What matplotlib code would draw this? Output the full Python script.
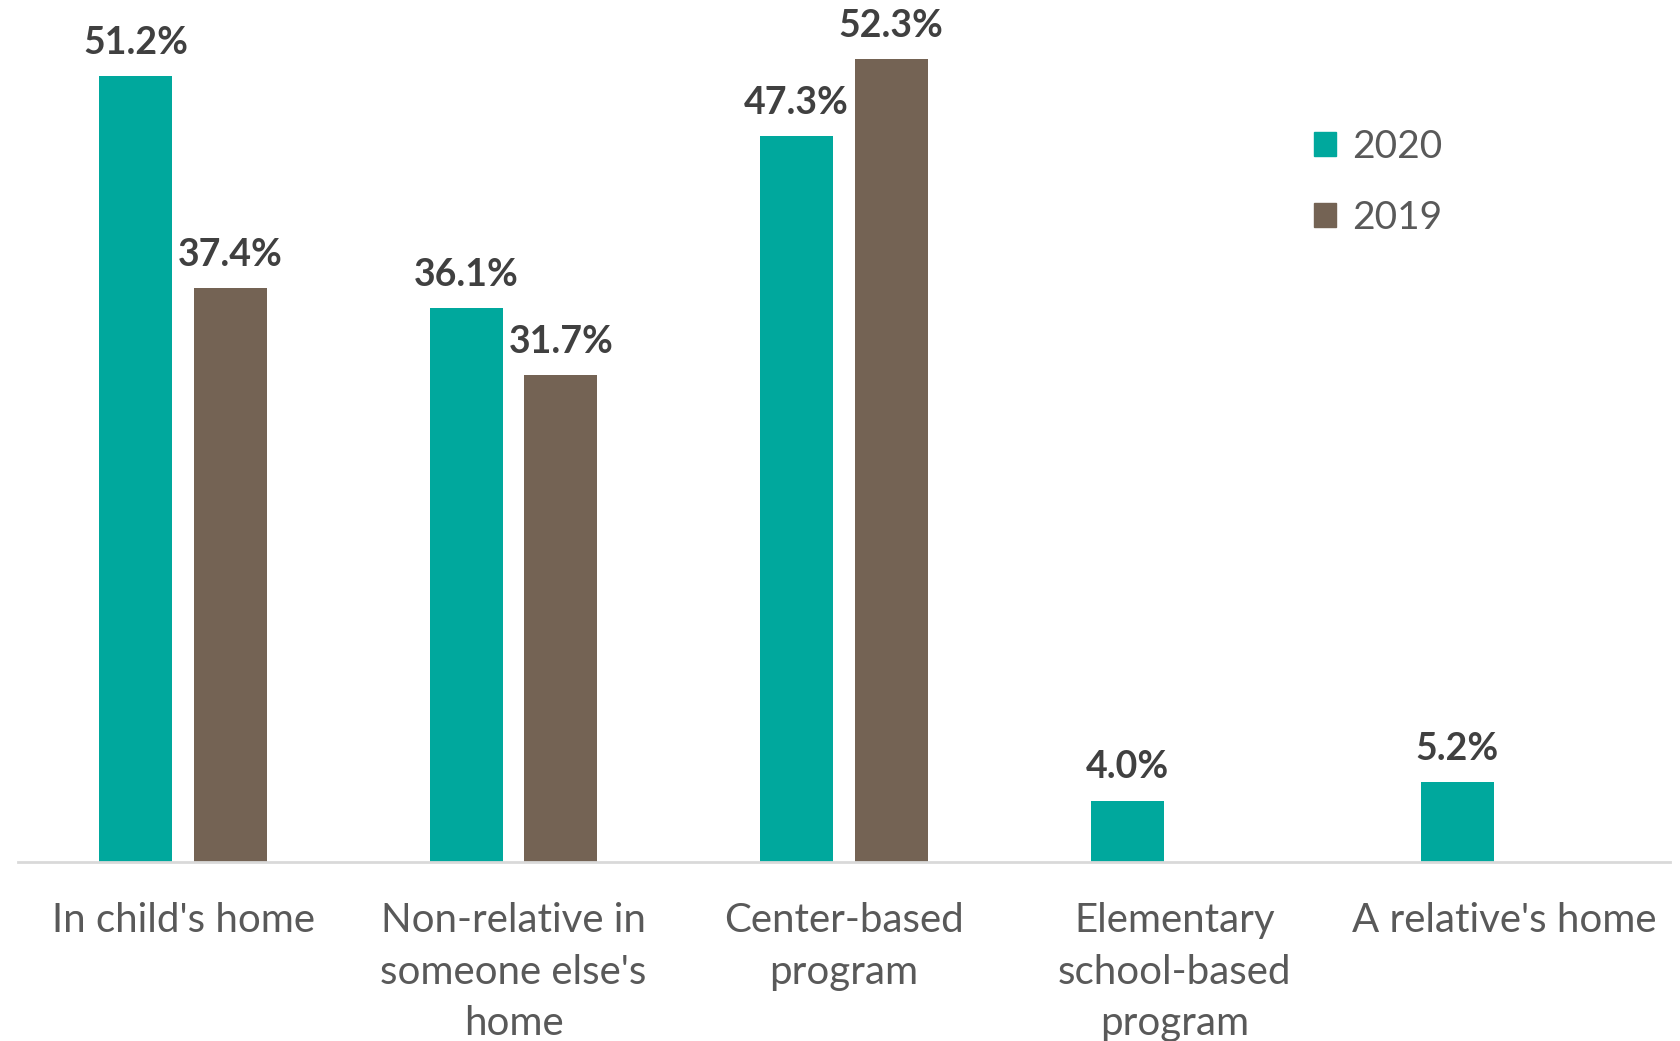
import matplotlib.pyplot as plt
import matplotlib.patches as patches
import numpy as np

categories = ["In child's home", "Non-relative in\nsomeone else's\nhome", "Center-based\nprogram",
              "Elementary\nschool-based\nprogram", "A relative's home"]
values_2020 = [51.2, 36.1, 47.3, 4.0, 5.2]
values_2019 = [37.4, 31.7, 52.3, None, None]

TEAL = "#00A89D"
BROWN = "#746354"


def main():
    plt.rcParams["font.family"] = ["Lato", "DejaVu Sans"]

    fig = plt.figure(figsize=(16.81, 10.41), dpi=100)
    ax = fig.add_axes([0.0107, 0.172, 0.9827, 0.8257])

    x = np.arange(len(categories))
    width = 0.221
    offset = 0.143

    for i, (v20, v19) in enumerate(zip(values_2020, values_2019)):
        ax.bar(x[i] - offset, v20, width, color=TEAL)
        ax.text(x[i] - offset, v20 + 1.05, f"{v20:.1f}%", ha="center", va="bottom",
                fontsize=27, fontweight="bold", color="#404040")
        if v19 is not None:
            ax.bar(x[i] + offset, v19, width, color=BROWN)
            ax.text(x[i] + offset, v19 + 1.05, f"{v19:.1f}%", ha="center", va="bottom",
                    fontsize=27, fontweight="bold", color="#404040")

    ax.set_xlim(-0.5, len(categories) - 0.5)
    ax.set_ylim(0, 56)
    ax.set_xticks(x)
    ax.set_xticklabels(categories, fontsize=29, color="#595959", linespacing=1.48)
    ax.tick_params(axis="x", length=0, pad=29)
    ax.set_yticks([])

    for side in ["top", "right", "left"]:
        ax.spines[side].set_visible(False)
    ax.spines["bottom"].set_color("#D9D9D9")
    ax.spines["bottom"].set_linewidth(2)

    handles = [patches.Patch(color=TEAL, label="2020"), patches.Patch(color=BROWN, label="2019")]
    ax.legend(handles=handles, loc="upper left", bbox_to_anchor=(0.761, 0.91),
              bbox_transform=fig.transFigure, frameon=False, fontsize=28,
              labelcolor="#595959", handlelength=0.57, handleheight=0.57,
              handletextpad=0.4, labelspacing=0.9)

    fig.savefig("out.png", dpi=100)
    plt.close()


if __name__ == "__main__":
    main()
